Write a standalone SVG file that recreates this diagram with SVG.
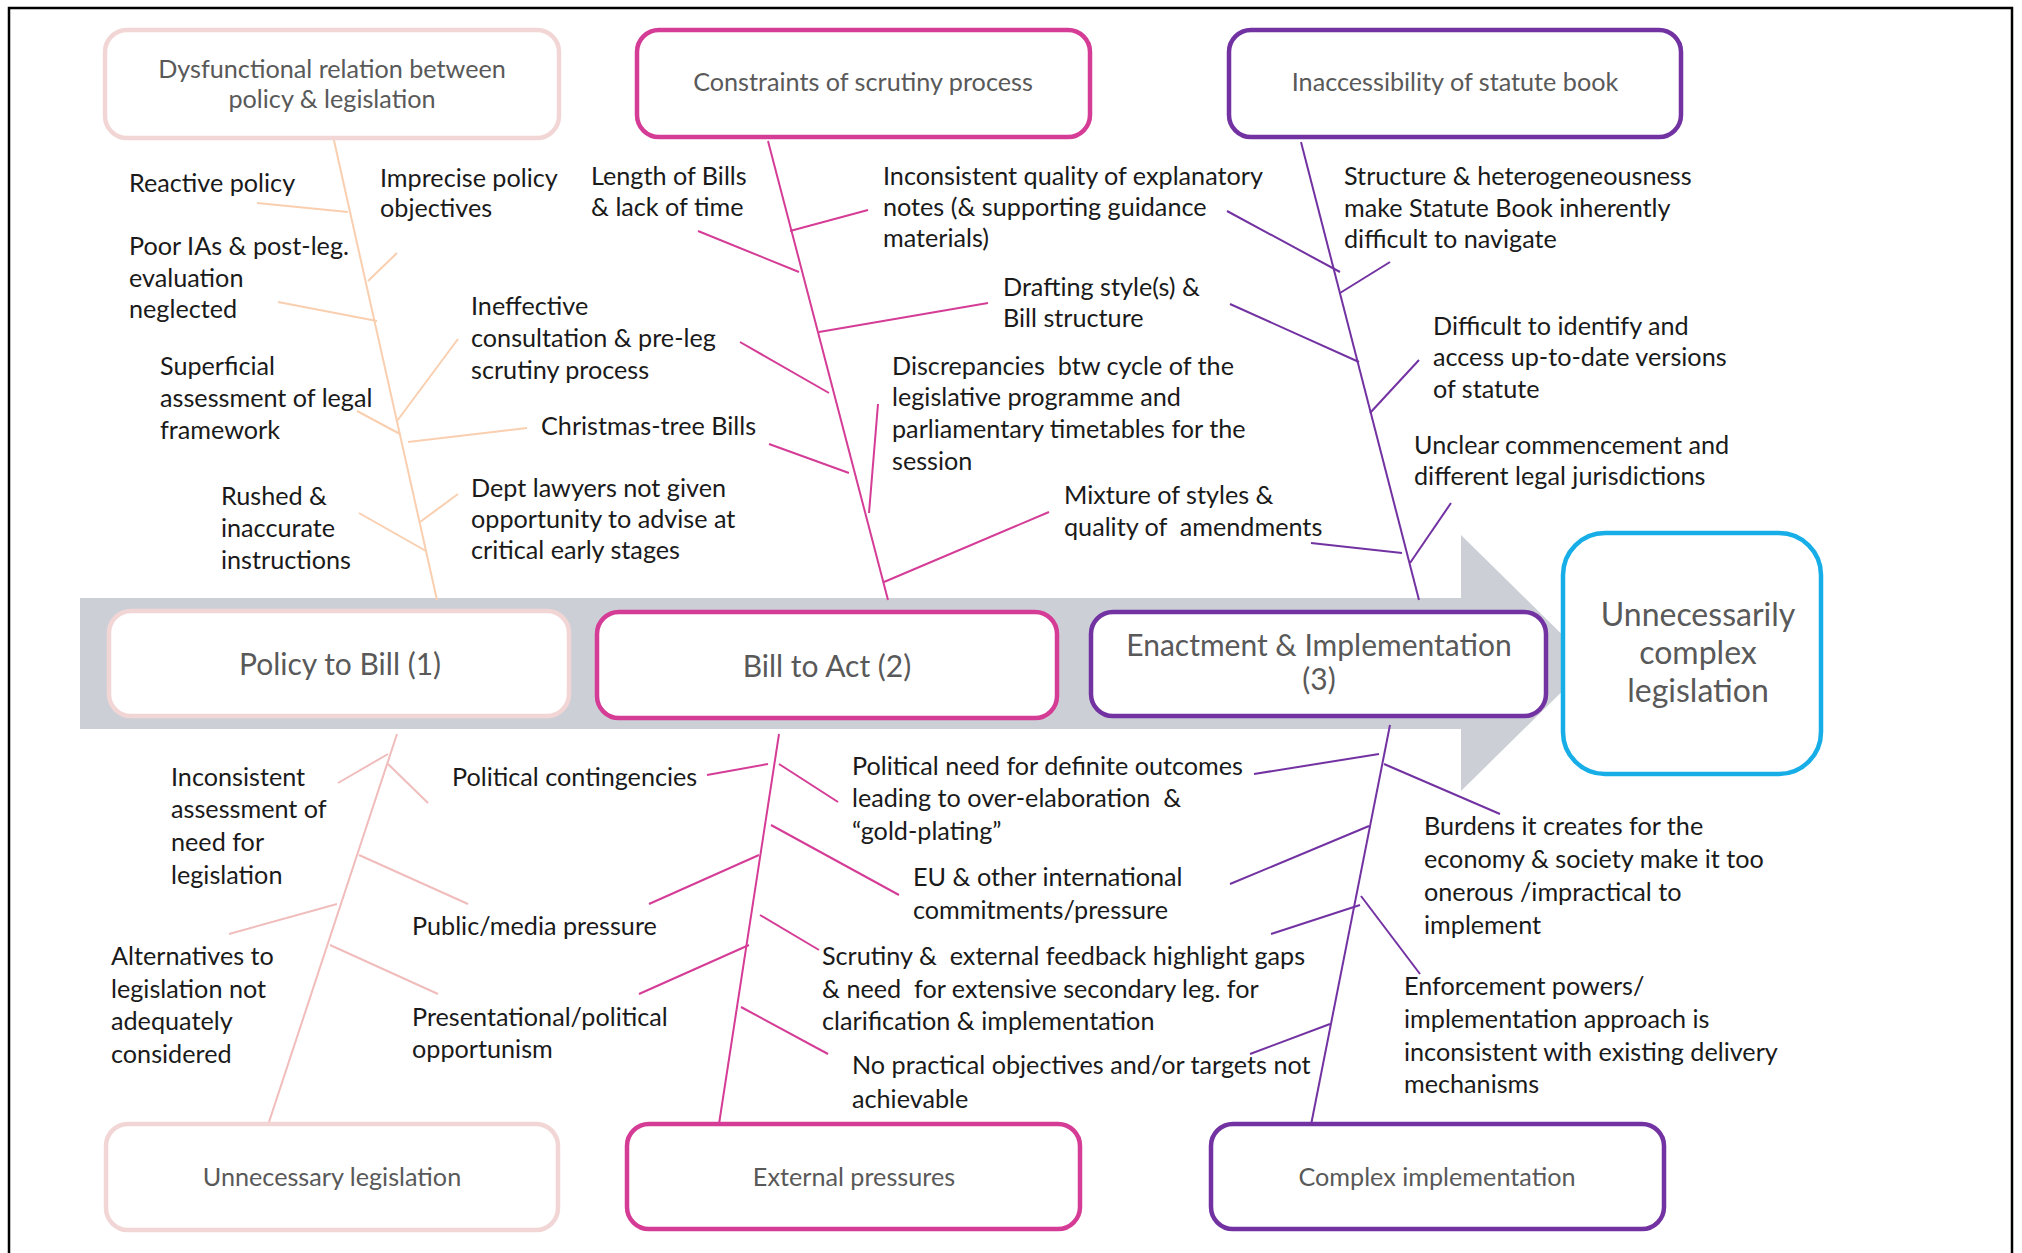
<svg xmlns="http://www.w3.org/2000/svg" width="2022" height="1253" viewBox="0 0 2022 1253">
<style>
.t{font-family:Lato,"Liberation Sans",sans-serif;font-size:25.2px;fill:#1a1a1a}
.h{font-family:Lato,"Liberation Sans",sans-serif;font-size:25.2px;fill:#595959;text-anchor:middle}
.s{font-family:Lato,"Liberation Sans",sans-serif;font-size:30px;fill:#595959;text-anchor:middle}
.o{font-family:Lato,"Liberation Sans",sans-serif;font-size:32px;fill:#595959;text-anchor:middle}
.box{fill:#fff;stroke-width:4.5}
.pk{stroke:#f2d6d6}
.mg{stroke:#d43c96}
.pu{stroke:#7232a2}
.l{fill:none;stroke-width:2}
.c1{stroke:#f9cfb0}
.c4{stroke:#f0bcbc}
.c2{stroke:#d43c96}
.c3{stroke:#7232a2}
</style>
<rect x="9" y="8" width="2003" height="1265" fill="#fff" stroke="#000" stroke-width="2.5"/>
<g id="arrow">
<polygon points="80,598 1461,598 1461,535 1591,663 1461,791 1461,729 80,729" fill="#cdcfd6"/>
</g>
<g id="connectors">
<g class="l c1">
<line x1="333" y1="136" x2="437" y2="600"/>
<line x1="257" y1="203" x2="348" y2="212"/>
<line x1="397" y1="253" x2="368" y2="281"/>
<line x1="278" y1="302" x2="377" y2="321"/>
<line x1="458" y1="339" x2="397" y2="421"/>
<line x1="357" y1="411" x2="400" y2="434"/>
<line x1="527" y1="428" x2="408" y2="442"/>
<line x1="458" y1="494" x2="420" y2="522"/>
<line x1="359" y1="513" x2="426" y2="551"/>
</g>
<g class="l c2">
<line x1="768" y1="141" x2="888" y2="600"/>
<line x1="868" y1="210" x2="790" y2="231"/>
<line x1="698" y1="231" x2="799" y2="272"/>
<line x1="988" y1="303" x2="819" y2="332"/>
<line x1="740" y1="342" x2="829" y2="393"/>
<line x1="878" y1="404" x2="869" y2="513"/>
<line x1="769" y1="444" x2="849" y2="473"/>
<line x1="1049" y1="512" x2="884" y2="582"/>
</g>
<g class="l c3">
<line x1="1301" y1="142" x2="1419" y2="600"/>
<line x1="1227" y1="211" x2="1340" y2="272"/>
<line x1="1390" y1="262" x2="1340" y2="293"/>
<line x1="1230" y1="304" x2="1359" y2="362"/>
<line x1="1419" y1="360" x2="1370" y2="413"/>
<line x1="1311" y1="543" x2="1402" y2="553"/>
<line x1="1451" y1="503" x2="1410" y2="563"/>
</g>
<g class="l c4">
<line x1="397" y1="734" x2="268" y2="1125"/>
<line x1="338" y1="783" x2="388" y2="754"/>
<line x1="388" y1="764" x2="428" y2="803"/>
<line x1="359" y1="855" x2="468" y2="904"/>
<line x1="229" y1="934" x2="337" y2="904"/>
<line x1="330" y1="945" x2="438" y2="994"/>
</g>
<g class="l c2">
<line x1="779" y1="734" x2="719" y2="1124"/>
<line x1="707" y1="775" x2="768" y2="764"/>
<line x1="779" y1="764" x2="838" y2="802"/>
<line x1="649" y1="904" x2="759" y2="855"/>
<line x1="771" y1="825" x2="899" y2="895"/>
<line x1="760" y1="915" x2="819" y2="950"/>
<line x1="639" y1="994" x2="749" y2="945"/>
<line x1="741" y1="1007" x2="828" y2="1054"/>
</g>
<g class="l c3">
<line x1="1390" y1="725" x2="1310" y2="1130"/>
<line x1="1254" y1="774" x2="1379" y2="754"/>
<line x1="1384" y1="764" x2="1500" y2="814"/>
<line x1="1230" y1="884" x2="1369" y2="826"/>
<line x1="1271" y1="934" x2="1360" y2="905"/>
<line x1="1361" y1="896" x2="1420" y2="974"/>
<line x1="1250" y1="1054" x2="1330" y2="1024"/>
</g>
</g>
<g id="top-dysfunctional">
<rect class="box pk" x="105" y="30" width="454" height="108" rx="22"/>
<text class="h" x="332" y="78">Dysfunctional relation between</text>
<text class="h" x="332" y="108">policy &amp; legislation</text>
</g>
<g id="top-constraints">
<rect class="box mg" x="637" y="30" width="453" height="107" rx="22"/>
<text class="h" x="863" y="91">Constraints of scrutiny process</text>
</g>
<g id="top-inaccessibility">
<rect class="box pu" x="1229" y="30" width="452" height="107" rx="22"/>
<text class="h" x="1455" y="91">Inaccessibility of statute book</text>
</g>
<g id="stage-1">
<rect class="box pk" x="109" y="611" width="460" height="105" rx="22"/>
<text class="s" x="340" y="675">Policy to Bill (1)</text>
</g>
<g id="stage-2">
<rect class="box mg" x="597" y="612" width="460" height="106" rx="22"/>
<text class="s" x="827" y="677">Bill to Act (2)</text>
</g>
<g id="stage-3">
<rect class="box pu" x="1091" y="612" width="455" height="104" rx="22"/>
<text class="s" x="1319" y="656">Enactment &amp; Implementation</text>
<text class="s" x="1319" y="690">(3)</text>
</g>
<g id="outcome">
<rect class="box" x="1563" y="533" width="258" height="241" rx="42" stroke="#17aee8"/>
<text class="o" x="1698" y="626">Unnecessarily</text>
<text class="o" x="1698" y="664">complex</text>
<text class="o" x="1698" y="702">legislation</text>
</g>
<g id="bottom-unnecessary">
<rect class="box pk" x="106" y="1124" width="452" height="106" rx="22"/>
<text class="h" x="332" y="1186">Unnecessary legislation</text>
</g>
<g id="bottom-external">
<rect class="box mg" x="627" y="1124" width="453" height="105" rx="22"/>
<text class="h" x="854" y="1186">External pressures</text>
</g>
<g id="bottom-complex">
<rect class="box pu" x="1211" y="1124" width="453" height="105" rx="22"/>
<text class="h" x="1437" y="1186">Complex implementation</text>
</g>
<g id="cause-reactive"><text class="t" x="129" y="192">Reactive policy</text></g>
<g id="cause-imprecise"><text class="t" x="380" y="187">Imprecise policy</text><text class="t" x="380" y="217">objectives</text></g>
<g id="cause-poor-ias"><text class="t" x="129" y="255">Poor IAs &amp; post-leg.</text><text class="t" x="129" y="287">evaluation</text><text class="t" x="129" y="318">neglected</text></g>
<g id="cause-ineffective"><text class="t" x="471" y="315">Ineffective</text><text class="t" x="471" y="347">consultation &amp; pre-leg</text><text class="t" x="471" y="379">scrutiny process</text></g>
<g id="cause-superficial"><text class="t" x="160" y="375">Superficial</text><text class="t" x="160" y="407">assessment of legal</text><text class="t" x="160" y="439">framework</text></g>
<g id="cause-christmas"><text class="t" x="541" y="435">Christmas-tree Bills</text></g>
<g id="cause-dept"><text class="t" x="471" y="497">Dept lawyers not given</text><text class="t" x="471" y="528">opportunity to advise at</text><text class="t" x="471" y="559">critical early stages</text></g>
<g id="cause-rushed"><text class="t" x="221" y="505">Rushed &amp;</text><text class="t" x="221" y="537">inaccurate</text><text class="t" x="221" y="569">instructions</text></g>
<g id="cause-length"><text class="t" x="591" y="185">Length of Bills</text><text class="t" x="591" y="216">&amp; lack of time</text></g>
<g id="cause-explanatory"><text class="t" x="883" y="185">Inconsistent quality of explanatory</text><text class="t" x="883" y="216">notes (&amp; supporting guidance</text><text class="t" x="883" y="247">materials)</text></g>
<g id="cause-drafting"><text class="t" x="1003" y="296">Drafting style(s) &amp;</text><text class="t" x="1003" y="327">Bill structure</text></g>
<g id="cause-discrepancies"><text class="t" x="892" y="375" xml:space="preserve">Discrepancies  btw cycle of the</text><text class="t" x="892" y="406">legislative programme and</text><text class="t" x="892" y="438">parliamentary timetables for the</text><text class="t" x="892" y="470">session</text></g>
<g id="cause-mixture"><text class="t" x="1064" y="504">Mixture of styles &amp;</text><text class="t" x="1064" y="536" xml:space="preserve">quality of  amendments</text></g>
<g id="cause-structure"><text class="t" x="1344" y="185">Structure &amp; heterogeneousness</text><text class="t" x="1344" y="217">make Statute Book inherently</text><text class="t" x="1344" y="248">difficult to navigate</text></g>
<g id="cause-difficult"><text class="t" x="1433" y="335">Difficult to identify and</text><text class="t" x="1433" y="366">access up-to-date versions</text><text class="t" x="1433" y="398">of statute</text></g>
<g id="cause-unclear"><text class="t" x="1414" y="454">Unclear commencement and</text><text class="t" x="1414" y="485">different legal jurisdictions</text></g>
<g id="cause-inconsistent-need"><text class="t" x="171" y="786">Inconsistent</text><text class="t" x="171" y="818">assessment of</text><text class="t" x="171" y="851">need for</text><text class="t" x="171" y="884">legislation</text></g>
<g id="cause-political-contingencies"><text class="t" x="452" y="786">Political contingencies</text></g>
<g id="cause-public-media"><text class="t" x="412" y="935">Public/media pressure</text></g>
<g id="cause-alternatives"><text class="t" x="111" y="965">Alternatives to</text><text class="t" x="111" y="998">legislation not</text><text class="t" x="111" y="1030">adequately</text><text class="t" x="111" y="1063">considered</text></g>
<g id="cause-presentational"><text class="t" x="412" y="1026">Presentational/political</text><text class="t" x="412" y="1058">opportunism</text></g>
<g id="cause-political-need"><text class="t" x="852" y="775">Political need for definite outcomes</text><text class="t" x="852" y="807" xml:space="preserve">leading to over-elaboration  &amp;</text><text class="t" x="852" y="840">“gold-plating”</text></g>
<g id="cause-eu"><text class="t" x="913" y="886">EU &amp; other international</text><text class="t" x="913" y="919">commitments/pressure</text></g>
<g id="cause-scrutiny"><text class="t" x="822" y="965" xml:space="preserve">Scrutiny &amp;  external feedback highlight gaps</text><text class="t" x="822" y="998" xml:space="preserve">&amp; need  for extensive secondary leg. for</text><text class="t" x="822" y="1030">clarification &amp; implementation</text></g>
<g id="cause-no-practical"><text class="t" x="852" y="1074">No practical objectives and/or targets not</text><text class="t" x="852" y="1108">achievable</text></g>
<g id="cause-burdens"><text class="t" x="1424" y="835">Burdens it creates for the</text><text class="t" x="1424" y="868">economy &amp; society make it too</text><text class="t" x="1424" y="901">onerous /impractical to</text><text class="t" x="1424" y="934">implement</text></g>
<g id="cause-enforcement"><text class="t" x="1404" y="995">Enforcement powers/</text><text class="t" x="1404" y="1028">implementation approach is</text><text class="t" x="1404" y="1061">inconsistent with existing delivery</text><text class="t" x="1404" y="1093">mechanisms</text></g>
</svg>
